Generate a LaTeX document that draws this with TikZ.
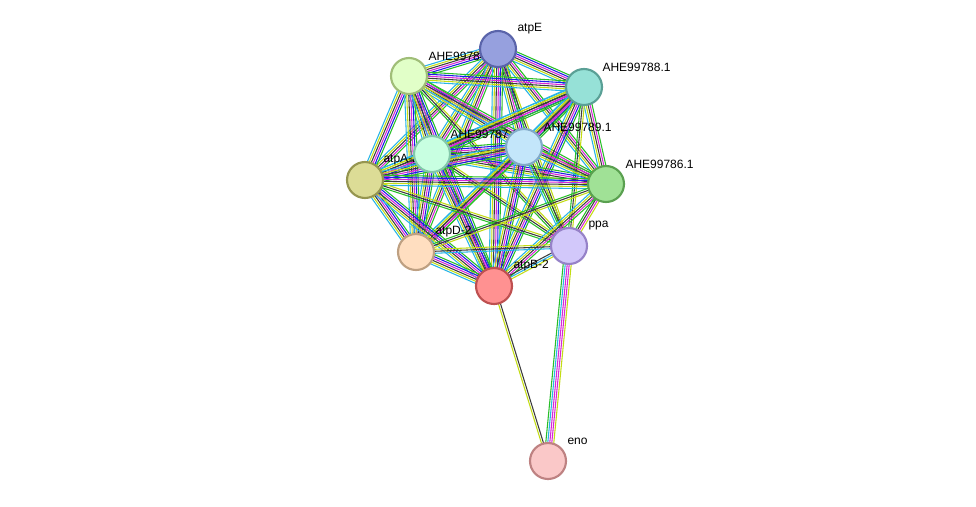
\documentclass[tikz,border=0pt]{standalone}
\usepackage{fontspec}
\setmainfont{Liberation Sans}
\usetikzlibrary{calc}
\definecolor{tgreen}{RGB}{40,190,40}
\definecolor{tyellow}{RGB}{195,220,20}
\definecolor{tmag}{RGB}{215,40,215}
\definecolor{tblack}{RGB}{60,60,60}
\definecolor{tcyan}{RGB}{40,180,230}
\definecolor{tblue}{RGB}{30,30,230}
\tikzset{every picture/.style={line width=0.75pt}}
\tikzset{prot/.style={circle,draw,line width=1.6pt,minimum size=27pt,inner sep=0pt},
  lbl/.style={anchor=west,inner sep=0.75pt,font=\fontsize{9}{10}\selectfont}}
% bundle of parallel coloured lines: from, to, count, colours
\newcommand\bund[4]{%
  \foreach \c [count=\i] in {#4} {
    \pgfmathsetmacro\o{(\i-(#3+1)/2)*1.5}
    \draw[\c,line width=0.8pt] ($(#1)!\o pt!90:(#2)$) -- ($(#2)!\o pt!-90:(#1)$);
  }}
\begin{document}
\begin{tikzpicture}[x=0.75pt,y=0.75pt,yscale=-1,xscale=1]
\useasboundingbox (0,0) rectangle (976,507);

\coordinate (atpE) at (498,49);
\coordinate (a84) at (409,76);
\coordinate (a88) at (584,87);
\coordinate (a87) at (432,154);
\coordinate (a89) at (524,147);
\coordinate (atpA) at (365,180);
\coordinate (a86) at (606,184);
\coordinate (atpD) at (416,252);
\coordinate (ppa) at (569,246);
\coordinate (atpB) at (494,286);
\coordinate (eno) at (548,461);

% edges
\bund{atpE}{a84}{6}{tgreen,tblue,tmag,tblack,tyellow,tcyan}
\bund{atpE}{a88}{6}{tgreen,tblue,tmag,tblack,tyellow,tcyan}
\bund{atpE}{a87}{5}{tgreen,tmag,tblack,tyellow,tcyan}
\bund{atpE}{a89}{6}{tgreen,tblue,tmag,tblack,tyellow,tcyan}
\bund{atpE}{atpA}{5}{tgreen,tmag,tblack,tyellow,tcyan}
\bund{atpE}{a86}{5}{tgreen,tmag,tblack,tyellow,tcyan}
\bund{atpE}{atpD}{5}{tgreen,tmag,tblack,tyellow,tcyan}
\bund{atpE}{ppa}{3}{tyellow,tblack,tgreen}
\bund{atpE}{atpB}{6}{tgreen,tblue,tmag,tblack,tyellow,tcyan}
\bund{a84}{a88}{6}{tgreen,tblue,tmag,tblack,tyellow,tcyan}
\bund{a84}{a87}{6}{tgreen,tblue,tmag,tblack,tyellow,tcyan}
\bund{a84}{a89}{6}{tgreen,tblue,tmag,tblack,tyellow,tcyan}
\bund{a84}{atpA}{6}{tgreen,tblue,tmag,tblack,tyellow,tcyan}
\bund{a84}{a86}{5}{tgreen,tmag,tblack,tyellow,tcyan}
\bund{a84}{atpD}{6}{tgreen,tblue,tmag,tblack,tyellow,tcyan}
\bund{a84}{ppa}{3}{tyellow,tblack,tgreen}
\bund{a84}{atpB}{6}{tgreen,tblue,tmag,tblack,tyellow,tcyan}
\bund{a88}{a87}{6}{tgreen,tblue,tmag,tblack,tyellow,tcyan}
\bund{a88}{a89}{6}{tgreen,tblue,tmag,tblack,tyellow,tcyan}
\bund{a88}{atpA}{5}{tgreen,tmag,tblack,tyellow,tcyan}
\bund{a88}{a86}{5}{tgreen,tmag,tblack,tyellow,tcyan}
\bund{a88}{atpD}{5}{tgreen,tmag,tblack,tyellow,tcyan}
\bund{a88}{ppa}{3}{tyellow,tblack,tgreen}
\bund{a88}{atpB}{6}{tgreen,tblue,tmag,tblack,tyellow,tcyan}
\bund{a87}{a89}{6}{tgreen,tblue,tmag,tblack,tyellow,tcyan}
\bund{a87}{atpA}{6}{tgreen,tblue,tmag,tblack,tyellow,tcyan}
\bund{a87}{a86}{6}{tgreen,tblue,tmag,tblack,tyellow,tcyan}
\bund{a87}{atpD}{6}{tgreen,tblue,tmag,tblack,tyellow,tcyan}
\bund{a87}{ppa}{3}{tyellow,tblack,tgreen}
\bund{a87}{atpB}{6}{tgreen,tblue,tmag,tblack,tyellow,tcyan}
\bund{a89}{atpA}{6}{tgreen,tblue,tmag,tblack,tyellow,tcyan}
\bund{a89}{a86}{5}{tgreen,tmag,tblack,tyellow,tcyan}
\bund{a89}{atpD}{5}{tgreen,tmag,tblack,tyellow,tcyan}
\bund{a89}{ppa}{4}{tyellow,tblack,tgreen,tcyan}
\bund{a89}{atpB}{6}{tgreen,tblue,tmag,tblack,tyellow,tcyan}
\bund{atpA}{a86}{6}{tgreen,tblue,tmag,tblack,tyellow,tcyan}
\bund{atpA}{atpD}{6}{tgreen,tblue,tmag,tblack,tyellow,tcyan}
\bund{atpA}{ppa}{3}{tyellow,tblack,tgreen}
\bund{atpA}{atpB}{6}{tgreen,tblue,tmag,tblack,tyellow,tcyan}
\bund{a86}{atpD}{3}{tyellow,tblack,tgreen}
\bund{a86}{ppa}{4}{tyellow,tmag,tblack,tgreen}
\bund{a86}{atpB}{5}{tgreen,tmag,tblack,tyellow,tcyan}
\bund{atpD}{ppa}{3}{tyellow,tblack,tcyan}
\bund{atpD}{atpB}{6}{tgreen,tblue,tmag,tblack,tyellow,tcyan}
\bund{ppa}{atpB}{3}{tyellow,tcyan,tblack}
\bund{atpB}{eno}{2}{tblack,tyellow}
\bund{ppa}{eno}{5}{tyellow,tmag,tmag,tcyan,tgreen}

% labels (behind the nodes)
\node[lbl] (latpE) at (516,29) {atpE};
\node[lbl] (l84) at (427,56) {AHE99784.1};
\node[lbl] (l88) at (601,67) {AHE99788.1};
\node[lbl] (l87) at (449,134) {AHE99787.1};
\node[lbl] (l89) at (542,127) {AHE99789.1};
\node[lbl] (latpA) at (382,160) {atpA-2};
\node[lbl] (l86) at (624,164) {AHE99786.1};
\node[lbl] (latpD) at (434,232) {atpD-2};
\node[lbl] (lppa) at (587,226) {ppa};
\node[lbl] (latpB) at (512,266) {atpB-2};
\node[lbl] (leno) at (566,441) {eno};

% proteins
\node[prot,fill={rgb,255:red,150;green,160;blue,222},draw={rgb,255:red,90;green,100;blue,170}] (nE) at (atpE) {};
\node[prot,fill={rgb,255:red,225;green,255;blue,200},draw={rgb,255:red,160;green,190;blue,120}] (n84) at (a84) {};
\node[prot,fill={rgb,255:red,150;green,225;blue,215},draw={rgb,255:red,90;green,160;blue,150}] (n88) at (a88) {};
\node[prot,fill={rgb,255:red,200;green,255;blue,225},draw={rgb,255:red,130;green,200;blue,170}] (n87) at (a87) {};
\node[prot,fill={rgb,255:red,195;green,230;blue,250},draw={rgb,255:red,130;green,170;blue,200}] (n89) at (a89) {};
\node[prot,fill={rgb,255:red,220;green,220;blue,150},draw={rgb,255:red,150;green,150;blue,80}] (nA) at (atpA) {};
\node[prot,fill={rgb,255:red,160;green,225;blue,150},draw={rgb,255:red,90;green,160;blue,80}] (n86) at (a86) {};
\node[prot,fill={rgb,255:red,255;green,222;blue,192},draw={rgb,255:red,190;green,160;blue,130}] (nD) at (atpD) {};
\node[prot,fill={rgb,255:red,210;green,200;blue,250},draw={rgb,255:red,150;green,130;blue,200}] (nppa) at (ppa) {};
\node[prot,fill={rgb,255:red,255;green,145;blue,145},draw={rgb,255:red,190;green,80;blue,80}] (nB) at (atpB) {};
\node[prot,fill={rgb,255:red,250;green,200;blue,200},draw={rgb,255:red,190;green,130;blue,130}] (neno) at (eno) {};
\end{tikzpicture}
\end{document}
